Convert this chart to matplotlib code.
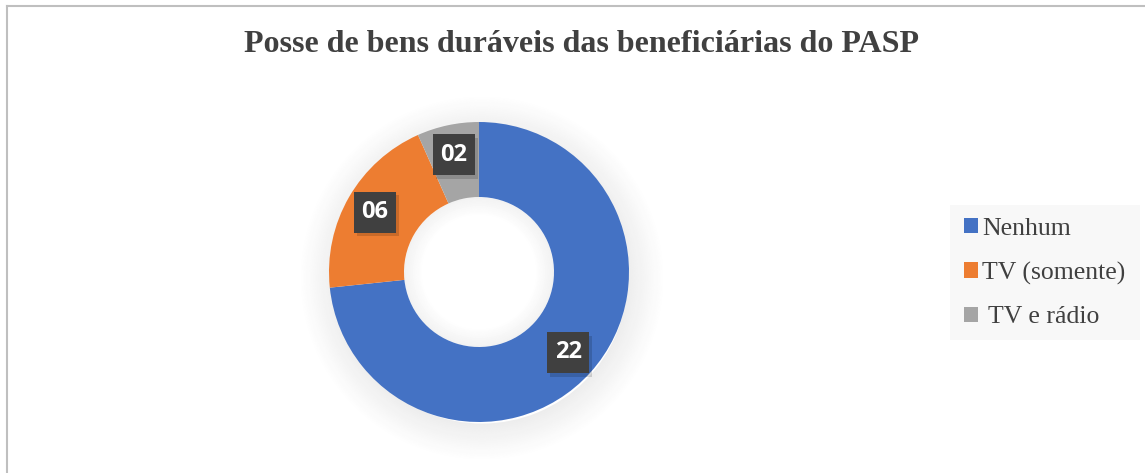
import matplotlib.pyplot as plt
from matplotlib.patches import Wedge, Rectangle
import numpy as np

# Dados do gráfico
categorias = ['Nenhum', 'TV (somente)', ' TV e rádio']
valores = [22, 6, 2]
rotulos = ['22', '06', '02']
cores = ['#4472C4', '#ED7D31', '#A5A5A5']

fig = plt.figure(figsize=(11.45, 4.73), dpi=100)
W, H = 1145, 473

# Moldura cinza (topo e lado esquerdo)
fig.add_artist(plt.Line2D([6.5 / W, 6.5 / W], [0, 1 - 6.5 / H], color='#bfbfbf', lw=1.5))
fig.add_artist(plt.Line2D([6.5 / W, 1], [1 - 6.5 / H, 1 - 6.5 / H], color='#bfbfbf', lw=1.5))

# Título
fig.text(582 / W, 1 - 45 / H, 'Posse de bens duráveis das beneficiárias do PASP',
         ha='center', va='center', fontsize=23, fontweight='bold',
         family='Liberation Serif', color='#404040')

# Eixo do anel: centro em (479, 272), raio 150 px
cx, cy, R = 479, 272, 150
lado = 440
ax = fig.add_axes([(cx - lado / 2) / W, (H - cy - lado / 2) / H, lado / W, lado / H])

# Sombra suave em volta do anel
n = 20
for k in range(n):
    r = 0.97 + 0.012 * (k + 1)
    ax.add_patch(Wedge((0.02, -0.04), r, 0, 360, width=0.012, color='#000000',
                       alpha=0.07 * (1 - k / n), lw=0))
for k in range(10):
    r = 0.5 - 0.012 * k
    ax.add_patch(Wedge((0, 0), r, 0, 360, width=0.012, color='#000000',
                       alpha=0.05 * (1 - k / 10), lw=0))

wedges, _ = ax.pie(valores, colors=cores, startangle=90, counterclock=False,
                   radius=1.0, wedgeprops=dict(width=0.5, linewidth=0))

lim = lado / 2 / R
ax.set_xlim(-lim, lim)
ax.set_ylim(-lim, lim)
ax.set_aspect('equal')
ax.axis('off')

# Rótulos de dados em caixas escuras (caixa ~42 px)
bw, bh = 42 / R, 41 / R
for w, txt in zip(wedges, rotulos):
    ang = np.deg2rad((w.theta1 + w.theta2) / 2)
    x, y = 0.8 * np.cos(ang), 0.8 * np.sin(ang)
    ax.add_patch(Rectangle((x - bw / 2 + 0.02, y - bh / 2 - 0.025), bw, bh,
                           fc='#000000', ec='none', alpha=0.15, zorder=3))
    ax.add_patch(Rectangle((x - bw / 2, y - bh / 2), bw, bh,
                           fc='#404040', ec='none', zorder=4))
    ax.text(x, y, txt, ha='center', va='center', fontsize=17, fontweight='bold',
            family='Open Sans', color='white', zorder=5)

# Legenda
fig.add_artist(Rectangle((950 / W, 1 - 340 / H), 190 / W, 135 / H,
                         transform=fig.transFigure, color='#f8f8f8', lw=0))
leg = fig.legend(wedges, categorias, loc='center left', bbox_to_anchor=(951 / W, 1 - 273 / H),
                 frameon=False, prop={'family': 'Liberation Serif', 'size': 18.5},
                 handlelength=0.55, handleheight=0.55, handletextpad=0.15, labelspacing=0.85,
                 labelcolor='#404040', borderpad=0)

fig.savefig('out.png', dpi=100)
